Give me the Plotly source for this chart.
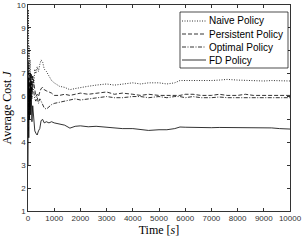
import plotly.graph_objects as go

t = [0, 15, 30, 45, 60, 80, 100, 120, 150, 180, 220, 260, 300, 350, 400, 450, 500, 560, 620, 700, 800, 900, 1000,
     1200, 1400, 1600, 1800, 2000, 2300, 2600, 3000, 3300, 3600, 4000, 4300, 4600, 5000, 5300, 5600, 5800, 6000,
     6300, 6600, 7000, 7300, 7600, 8000, 8300, 8600, 9000, 9300, 9600, 10000]

naive = [6.0, 9.8, 7.5, 8.2, 6.8, 7.6, 6.4, 7.0, 6.2, 6.9, 6.5, 7.2, 7.0, 7.3, 7.1, 7.4, 7.6, 7.5, 7.2, 7.1, 6.9, 6.7, 6.6,
         6.45, 6.4, 6.3, 6.35, 6.4, 6.45, 6.5, 6.55, 6.5, 6.55, 6.6, 6.55, 6.6, 6.6, 6.55, 6.6, 6.7, 6.7,
         6.7, 6.68, 6.7, 6.72, 6.75, 6.72, 6.7, 6.7, 6.68, 6.7, 6.7, 6.68]

persistent = [5.0, 7.5, 6.0, 6.8, 5.6, 6.6, 6.0, 7.0, 6.2, 6.9, 6.6, 6.2, 6.0, 6.1, 6.0, 6.2, 6.35, 6.4, 6.3, 6.25, 6.2, 6.15, 6.05,
              6.05, 6.1, 6.05, 6.1, 6.15, 6.1, 6.15, 6.2, 6.1, 6.15, 6.1, 6.05, 6.1, 6.05, 6.05, 6.05, 6.05, 6.1,
              6.1, 6.05, 6.05, 6.1, 6.05, 6.05, 6.1, 6.05, 6.05, 6.05, 6.05, 6.05]

optimal = [4.5, 6.5, 5.2, 6.2, 5.4, 6.4, 5.8, 6.6, 5.9, 6.5, 6.1, 5.9, 5.8, 6.0, 5.7, 5.9, 5.8, 5.6, 5.5, 5.45, 5.55, 5.65, 5.7,
           5.75, 5.8, 5.85, 5.9, 5.85, 5.9, 5.95, 6.0, 5.95, 5.95, 6.0, 6.0, 5.95, 6.0, 5.95, 6.0, 6.0, 5.95,
           6.0, 5.95, 5.95, 5.98, 5.95, 5.95, 5.95, 5.97, 5.95, 5.95, 5.95, 5.95]

fd = [3.0, 6.8, 4.2, 6.3, 5.0, 7.0, 5.2, 6.4, 4.9, 5.6, 4.8, 4.5, 4.4, 4.32, 4.5, 4.6, 4.95, 5.0, 4.85, 4.9, 4.85, 4.9, 4.85,
      4.8, 4.75, 4.62, 4.7, 4.72, 4.68, 4.7, 4.65, 4.62, 4.6, 4.6, 4.55, 4.52, 4.55, 4.55, 4.6, 4.67, 4.66,
      4.65, 4.65, 4.64, 4.65, 4.65, 4.64, 4.64, 4.65, 4.66, 4.63, 4.6, 4.58]

names = ["Naive Policy", "Persistent Policy", "Optimal Policy", "FD Policy"]
series = [naive, persistent, optimal, fd]
dashes = ["1px,1.5px", "4px,2px", "4px,1.5px,1px,1.5px", "solid"]

x_ticks = list(range(0, 10001, 1000))
y_ticks = list(range(1, 11))

fig = go.Figure()
for n, s, d in zip(names, series, dashes):
    fig.add_trace(go.Scatter(x=t, y=s, mode="lines", name=n, showlegend=False,
                             line=dict(color="black", width=0.8, dash=d)))

# legend box drawn in paper coordinates
L = 28; R = 290; T = 5; B = 211
W = R - L; H = B - T
def px(x): return (x - L) / W
def py(y): return (B - y) / H

shapes = [dict(type="rect", xref="paper", yref="paper",
               x0=px(180), x1=px(288), y0=py(68), y1=py(12),
               line=dict(color="black", width=0.7), fillcolor="white", layer="above")]
annotations = []
for i, (n, d) in enumerate(zip(names, dashes)):
    yy = 21 + i * 13
    shapes.append(dict(type="line", xref="paper", yref="paper",
                       x0=px(182), x1=px(206), y0=py(yy), y1=py(yy),
                       line=dict(color="black", width=0.8, dash=d), layer="above"))
    annotations.append(dict(xref="paper", yref="paper", x=px(207), y=py(yy),
                            xanchor="left", yanchor="middle", showarrow=False, text=n,
                            font=dict(family="Liberation Sans", size=10, color="black")))

axis_common = dict(showline=True, linecolor="black", linewidth=0.8, mirror="ticks",
                   ticks="inside", ticklen=3, tickcolor="black", tickwidth=0.8,
                   showgrid=False, zeroline=False, automargin=False,
                   tickfont=dict(family="Liberation Sans", size=8, color="#333"))

fig.update_layout(
    template="none",
    width=304, height=240,
    margin=dict(l=L, r=304 - R, t=T, b=240 - B),
    paper_bgcolor="white", plot_bgcolor="white",
    showlegend=False,
    shapes=shapes, annotations=annotations,
    xaxis=dict(range=[0, 10000], tickvals=x_ticks, ticktext=[str(v) for v in x_ticks],
               title=dict(text="Time [<i>s</i>]", standoff=3,
                          font=dict(family="Liberation Serif", size=12, color="black")),
               **axis_common),
    yaxis=dict(range=[1, 10], tickvals=y_ticks, ticktext=[str(v) for v in y_ticks],
               title=dict(text="Average Cost <i>J</i>", standoff=3,
                          font=dict(family="Liberation Serif", size=12, color="black")),
               **axis_common),
)

fig.write_html("out.html", config={"displayModeBar": False, "staticPlot": True},
               post_script="document.body.style.margin='0px';document.body.style.overflow='hidden';")
